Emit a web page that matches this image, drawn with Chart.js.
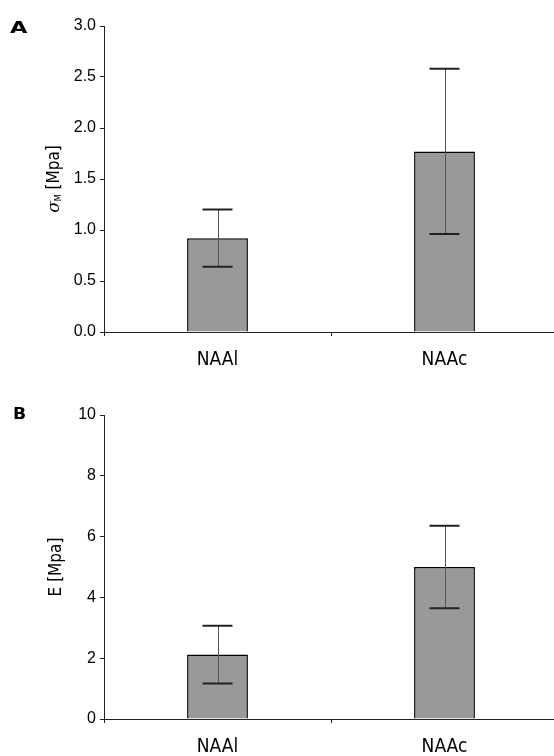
<!DOCTYPE html>
<html>
<head>
<meta charset="utf-8">
<script src="https://cdn.jsdelivr.net/npm/chart.js@4.4.0/dist/chart.umd.min.js"></script>
<style>
  html, body { margin: 0; padding: 0; background: #fff; overflow: hidden; }
  .panel { position: absolute; left: 0; width: 558px; }
  .letter { position: absolute; font-family: 'DejaVu Sans', sans-serif; font-weight: bold; font-size: 15px; color: #000; }
  .ytitle { position: absolute; font-family: 'DejaVu Sans Condensed', 'Liberation Sans', sans-serif; font-size: 17px; color: #000;
            white-space: nowrap; transform: translate(-50%, -50%) rotate(-90deg); }
  .ytitle i { font-family: 'DejaVu Serif', serif; }
  .ytitle sub { font-size: 9px; vertical-align: -2px; }
</style>
</head>
<body>
<div class="panel" style="top:0;height:378px"><canvas id="chartA"></canvas></div>
<div class="panel" style="top:388px;height:368px"><canvas id="chartB"></canvas></div>
<div class="letter" style="left:10px;top:19px;transform:scaleX(1.5);transform-origin:left">A</div>
<div class="letter" style="left:13px;top:405px;transform:scaleX(1.15);transform-origin:left">B</div>
<div class="ytitle" style="left:53px;top:179px"><i>σ</i><sub>M</sub> [Mpa]</div>
<div class="ytitle" style="left:55px;top:567px">E [Mpa]</div>
<script>
var categories = ['NAAl', 'NAAc'];

// panel A: strength
var strengthMean = [0.92, 1.77];
var strengthSD = [0.28, 0.81];
var strengthTicks = { min: 0, max: 3, step: 0.5 };

// panel B: modulus
var modulusMean = [2.12, 5.0];
var modulusSD = [0.95, 1.36];
var modulusTicks = { min: 0, max: 10, step: 2 };

// draws +/- SD whiskers using the chart's own scales
const errorBars = {
    id: 'errorBars',
    afterDatasetsDraw: function(chart) {
        const ctx = chart.ctx;
        const yScale = chart.scales.y;
        chart.data.datasets.forEach(function(ds, i) {
            const meta = chart.getDatasetMeta(i);
            meta.data.forEach(function(bar, j) {
                const v = ds.data[j], e = ds.errors[j];
                const yHi = yScale.getPixelForValue(v + e);
                const yLo = yScale.getPixelForValue(v - e);
                ctx.save();
                ctx.strokeStyle = '#555';
                ctx.lineWidth = 1;
                ctx.beginPath();
                ctx.moveTo(Math.round(bar.x) + 0.5, yHi);
                ctx.lineTo(Math.round(bar.x) + 0.5, yLo);
                ctx.stroke();
                ctx.strokeStyle = '#222';
                ctx.lineWidth = 2;
                ctx.beginPath();
                ctx.moveTo(bar.x - 15, yHi);
                ctx.lineTo(bar.x + 15, yHi);
                ctx.moveTo(bar.x - 15, yLo);
                ctx.lineTo(bar.x + 15, yLo);
                ctx.stroke();
                ctx.restore();
            });
        });
    }
};

function makeConfig(values, errors, t, padTop, xHeight) {
    return {
        type: 'bar',
        data: {
            labels: categories,
            datasets: [{
                data: values,
                errors: errors,
                backgroundColor: '#999999',
                borderColor: '#000',
                borderWidth: 1.5,
                categoryPercentage: 1,
                barPercentage: 0.268
            }]
        },
        options: {
            responsive: true,
            maintainAspectRatio: false,
            animation: false,
            layout: { padding: { top: padTop, left: 0, right: 0, bottom: 0 } },
            plugins: { legend: { display: false }, tooltip: { enabled: false } },
            scales: {
                x: {
                    afterFit: function(scale) { scale.height = xHeight; },
                    border: { color: '#222', width: 1 },
                    grid: { drawOnChartArea: false, tickLength: 4, color: '#222' },
                    ticks: {
                        color: '#000', padding: 13,
                        font: { family: "'DejaVu Sans Condensed', 'Liberation Sans', sans-serif", size: 19 }
                    }
                },
                y: {
                    min: t.min, max: t.max,
                    afterFit: function(scale) { scale.width = 104; },
                    border: { color: '#222', width: 1 },
                    grid: { drawOnChartArea: false, tickLength: 4, color: '#222' },
                    ticks: {
                        stepSize: t.step, color: '#000', padding: 4,
                        font: { family: "'Liberation Sans', sans-serif", size: 16 },
                        callback: function(v) { return t.step < 1 ? v.toFixed(1) : v; }
                    }
                }
            }
        },
        plugins: [errorBars]
    };
}

new Chart(document.getElementById('chartA'), makeConfig(strengthMean, strengthSD, strengthTicks, 26, 46));
new Chart(document.getElementById('chartB'), makeConfig(modulusMean, modulusSD, modulusTicks, 27, 37));
</script>
</body>
</html>
